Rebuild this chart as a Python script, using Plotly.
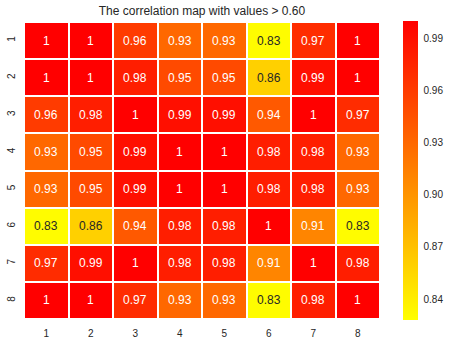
import plotly.graph_objects as go

labels = ["1", "2", "3", "4", "5", "6", "7", "8"]
row1 = [1, 1, 0.96, 0.93, 0.93, 0.83, 0.97, 1]
row2 = [1, 1, 0.98, 0.95, 0.95, 0.86, 0.99, 1]
row3 = [0.96, 0.98, 1, 0.99, 0.99, 0.94, 1, 0.97]
row4 = [0.93, 0.95, 0.99, 1, 1, 0.98, 0.98, 0.93]
row5 = [0.93, 0.95, 0.99, 1, 1, 0.98, 0.98, 0.93]
row6 = [0.83, 0.86, 0.94, 0.98, 0.98, 1, 0.91, 0.83]
row7 = [0.97, 0.99, 1, 0.98, 0.98, 0.91, 1, 0.98]
row8 = [1, 1, 0.97, 0.93, 0.93, 0.83, 0.98, 1]
z = [row1, row2, row3, row4, row5, row6, row7, row8]
cbar_ticks = [0.84, 0.87, 0.90, 0.93, 0.96, 0.99]

zmin, zmax = 0.828, 1.0
W, H = 451, 343
FONT = "Liberation Sans, Arial"

fig = go.Figure(go.Heatmap(
    z=z, x=labels, y=labels,
    colorscale=[[0, "rgb(255,255,0)"], [1, "rgb(255,0,0)"]],
    zmin=zmin, zmax=zmax,
    xgap=2, ygap=2,
    hoverinfo="skip",
    colorbar=dict(
        thickness=15, len=299, lenmode="pixels",
        y=1 - 170.5 / H, yanchor="middle",
        x=403 / W, xanchor="left", xpad=0, ypad=0, outlinewidth=0,
        tickvals=cbar_ticks, ticktext=[f"{v:.2f}" for v in cbar_ticks],
        ticks="outside", ticklen=4, tickcolor="white",
        tickfont=dict(family=FONT, size=10, color="#262626"),
    ),
))

annotations = []
for i, row in enumerate(z):
    for j, v in enumerate(row):
        txt = f"{v:g}"
        color = "#262626" if v <= 0.87 else "white"
        annotations.append(dict(
            x=j, y=i, text=txt, showarrow=False,
            font=dict(family=FONT, size=12, color=color),
            xref="x", yref="y",
        ))

fig.update_layout(
    width=W, height=H,
    margin=dict(l=0, r=0, t=0, b=0),
    paper_bgcolor="white", plot_bgcolor="white",
    title=dict(text="The correlation map with values > 0.60", x=202 / W, xanchor="center",
               y=1 - 11 / H, yanchor="middle", yref="paper", xref="paper",
               font=dict(family=FONT, size=12, color="#262626")),
    annotations=annotations,
    xaxis=dict(type="category", domain=[24 / W, 380 / W], showgrid=False, zeroline=False,
               ticks="outside", ticklen=5, tickcolor="white",
               tickfont=dict(family=FONT, size=10, color="#262626")),
    yaxis=dict(type="category", domain=[(H - 319) / H, (H - 22) / H], showgrid=False,
               zeroline=False, autorange="reversed", tickangle=-90,
               ticks="outside", ticklen=4, tickcolor="white",
               tickfont=dict(family=FONT, size=10, color="#262626")),
)

fig.write_html("out.html", config={"displayModeBar": False},
               post_script="document.body.style.margin='0';")
